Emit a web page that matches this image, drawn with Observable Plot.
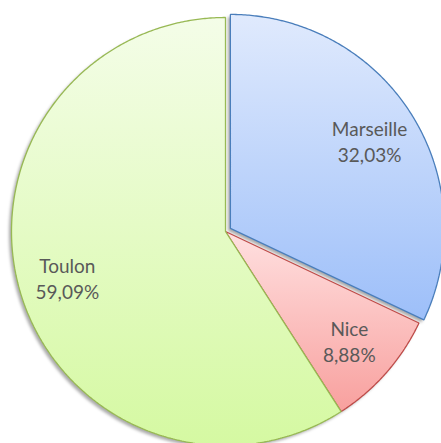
<!DOCTYPE html>
<html>
<head>
<meta charset="utf-8">
<script src="https://cdn.jsdelivr.net/npm/d3@7"></script>
<script src="https://cdn.jsdelivr.net/npm/@observablehq/plot@0.6"></script>
<style>
  html, body { margin: 0; padding: 0; background: #fff; }
  #chart { width: 441px; height: 443px; overflow: hidden; }
</style>
</head>
<body>
<div id="chart"></div>
<script>
// ---- data ----
const cities = ["Marseille", "Nice", "Toulon"];
const shares = [32.03, 8.88, 59.09];
const shareLabels = ["32,03%", "8,88%", "59,09%"];
const exploded = [true, false, false];

// ---- styles ----
const gradTop = ["#e0eafd", "#ffe0e0", "#f4fde8"];
const gradBottom = ["#9dbff9", "#f8a09e", "#d5f9a2"];
const strokes = ["#4a7ebb", "#be4b48", "#98b954"];

const W = 441, H = 443;
const cx = 225, cy = 231, R = 214;
const explodeDist = 0.027;
const labelRadius = 0.77;

// build slice polygons in unit coordinates (center 0,0, radius 1, y downward)
const total = d3.sum(shares);
const slices = [];
const labelRows = [];
let acc = 0;
cities.forEach((c, i) => {
  const a0 = acc / total * 2 * Math.PI;
  acc += shares[i];
  const a1 = acc / total * 2 * Math.PI;
  const mid = (a0 + a1) / 2;
  const off = exploded[i] ? explodeDist : 0;
  const ox = off * Math.sin(mid), oy = -off * Math.cos(mid);
  const n = Math.max(2, Math.ceil((a1 - a0) / (Math.PI / 360)));
  slices.push({city: c, x: ox, y: oy});
  for (let k = 0; k <= n; k++) {
    const a = a0 + (a1 - a0) * k / n;
    slices.push({city: c, x: ox + Math.sin(a), y: oy - Math.cos(a)});
  }
  labelRows.push({
    city: c,
    x: ox + labelRadius * Math.sin(mid),
    y: oy - labelRadius * Math.cos(mid),
    text: c + "\n" + shareLabels[i]
  });
});

const xDomain = [-cx / R, (W - cx) / R];
const yDomain = [-cy / R, (H - cy) / R];

const defsMark = () => {
  const defs = d3.create("svg:defs");
  cities.forEach((c, i) => {
    const g = defs.append("linearGradient")
      .attr("id", "grad" + i).attr("x1", 0).attr("y1", 0).attr("x2", 0).attr("y2", 1);
    g.append("stop").attr("offset", "0%").attr("stop-color", gradTop[i]);
    g.append("stop").attr("offset", "100%").attr("stop-color", gradBottom[i]);
  });
  const f = defs.append("filter").attr("id", "shadowBlur")
    .attr("x", "-10%").attr("y", "-10%").attr("width", "120%").attr("height", "120%");
  f.append("feGaussianBlur").attr("stdDeviation", 1.4);
  return defs.node();
};

const sliceMarks = cities.map((c, i) =>
  Plot.line(slices.filter(d => d.city === c), {
    x: "x", y: "y",
    curve: "linear-closed",
    fill: `url(#grad${i})`,
    stroke: strokes[i],
    strokeWidth: 1.3,
    strokeLinejoin: "miter"
  })
);

const shadowMark = Plot.line(slices, {
  x: "x", y: "y", z: "city",
  curve: "linear-closed",
  fill: "#000",
  fillOpacity: 0.33,
  stroke: "none",
  dx: -2.5, dy: 2.5
});

const chart = Plot.plot({
  width: W,
  height: H,
  margin: 0,
  x: {domain: xDomain, range: [0, W], axis: null},
  y: {domain: yDomain, range: [0, H], axis: null},
  style: {background: "#fff", overflow: "hidden"},
  marks: [
    defsMark,
    shadowMark,
    ...sliceMarks,
    Plot.text(labelRows, {
      x: "x", y: "y", text: "text",
      fontSize: 19,
      lineHeight: 1.37,
      fill: "#595959",
      fontFamily: "Lato, 'Open Sans', sans-serif",
      textAnchor: "middle"
    })
  ]
});

// blur the shadow layer
const lineGroups = chart.querySelectorAll('g[aria-label="line"]');
if (lineGroups.length) lineGroups[0].setAttribute("filter", "url(#shadowBlur)");

document.getElementById("chart").appendChild(chart);
</script>
</body>
</html>
